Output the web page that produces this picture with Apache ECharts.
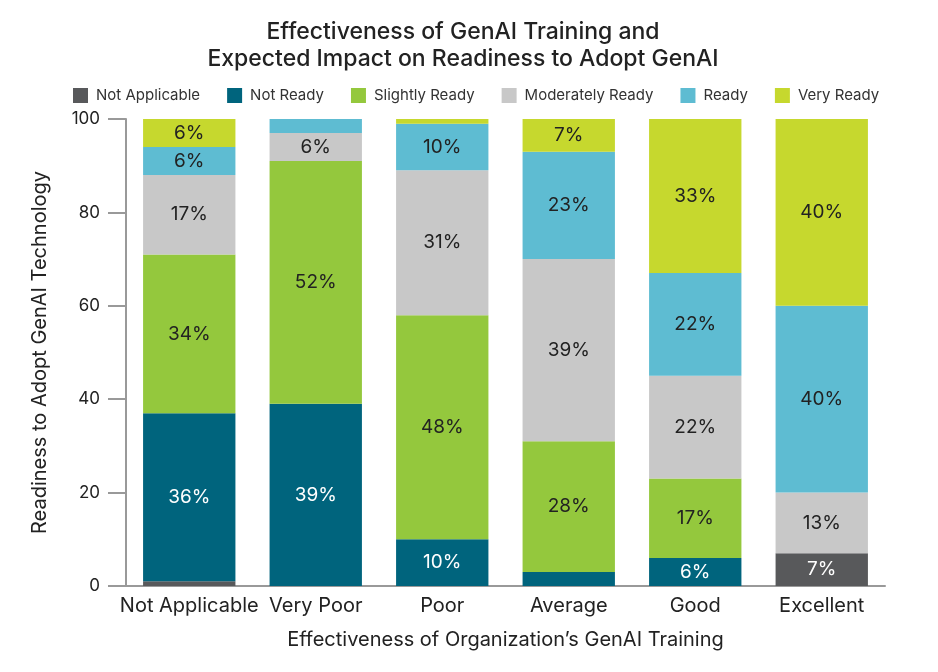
<!DOCTYPE html>
<html>
<head>
<meta charset="utf-8">
<script src="https://cdn.jsdelivr.net/npm/echarts@6/dist/echarts.min.js"></script>
<style>
  html, body { margin: 0; padding: 0; background: #fff; }
  #chart { width: 938px; height: 672px; }
</style>
</head>
<body>
<div id="chart"></div>
<script>
var categories = ['Not Applicable', 'Very Poor', 'Poor', 'Average', 'Good', 'Excellent'];
var seriesNames = ['Not Applicable', 'Not Ready', 'Slightly Ready', 'Moderately Ready', 'Ready', 'Very Ready'];

var notApplicable   = [1, 0, 0, 0, 0, 7];
var notReady        = [36, 39, 10, 3, 6, 0];
var slightlyReady   = [34, 52, 48, 28, 17, 0];
var moderatelyReady = [17, 6, 31, 39, 22, 13];
var ready           = [6, 3, 10, 23, 22, 40];
var veryReady       = [6, 0, 1, 7, 33, 40];

var yTicks = [0, 20, 40, 60, 80, 100];

var colors = ['#58595b', '#00647d', '#94c83d', '#c8c8c8', '#5ebcd2', '#c6d82e'];
var labelColors = ['#fff', '#fff', '#222', '#222', '#222', '#222'];
var font = 'Inter, "Noto Sans", sans-serif';

var chart = echarts.init(document.getElementById('chart'));

var allData = [notApplicable, notReady, slightlyReady, moderatelyReady, ready, veryReady];

var series = allData.map(function (d, i) {
    return {
        name: seriesNames[i],
        type: 'bar',
        stack: 'total',
        data: d,
        barCategoryGap: '27%',
        itemStyle: { color: colors[i] },
        label: {
            show: true,
            position: 'inside',
            color: labelColors[i],
            fontFamily: font,
            fontSize: 19,
            formatter: function (p) { return p.value >= 5 ? p.value + '%' : ''; }
        }
    };
});

var option = {
    animation: false,
    color: colors,
    title: {
        text: 'Effectiveness of GenAI Training and\nExpected Impact on Readiness to Adopt GenAI',
        left: 458,
        top: 14,
        textAlign: 'center',
        textStyle: {
            fontFamily: font,
            fontSize: 23,
            fontWeight: 500,
            color: '#222',
            lineHeight: 27
        }
    },
    legend: {
        data: seriesNames,
        left: 68,
        top: 83,
        width: 870,
        itemWidth: 15,
        itemHeight: 15,
        itemGap: 27,
        icon: 'rect',
        textStyle: { fontFamily: font, fontSize: 15, color: '#333', padding: [0, 0, 0, 3] }
    },
    grid: { left: 126, right: 53, top: 119, bottom: 86 },
    xAxis: {
        type: 'category',
        data: categories,
        name: 'Effectiveness of Organization\u2019s GenAI Training',
        nameLocation: 'middle',
        nameGap: 44,
        nameTextStyle: { fontFamily: font, fontSize: 20, color: '#222' },
        axisLine: { lineStyle: { color: '#999', width: 2 } },
        axisTick: { show: false },
        axisLabel: { interval: 0, fontFamily: font, fontSize: 20, color: '#222', margin: 10 }
    },
    yAxis: {
        type: 'value',
        min: yTicks[0],
        max: yTicks[yTicks.length - 1],
        interval: 20,
        name: 'Readiness to Adopt GenAI Technology',
        nameLocation: 'middle',
        nameGap: 76,
        nameTextStyle: { fontFamily: font, fontSize: 20, color: '#222' },
        axisLine: { show: true, lineStyle: { color: '#999', width: 2 } },
        axisTick: { show: true, length: 18, lineStyle: { color: '#999', width: 2 } },
        splitLine: { show: false },
        axisLabel: { fontFamily: font, fontSize: 17, color: '#222', margin: 26 }
    },
    series: series
};

chart.setOption(option);
</script>
</body>
</html>
